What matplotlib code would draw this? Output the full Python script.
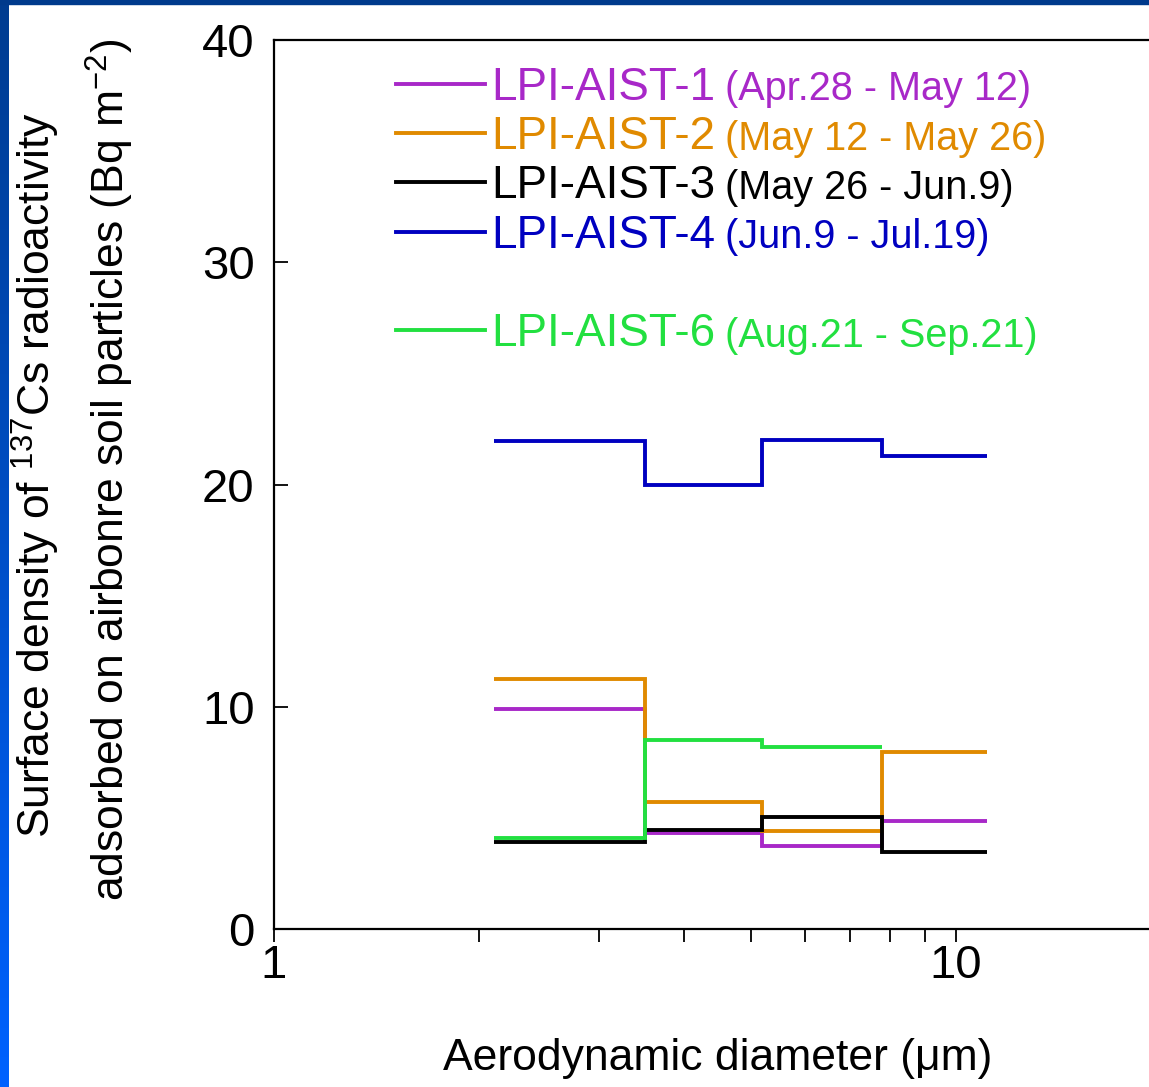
import numpy as np
import matplotlib.pyplot as plt
from matplotlib.lines import Line2D
from matplotlib.colors import LinearSegmentedColormap

plt.rcParams['font.family'] = ['Liberation Sans', 'DejaVu Sans']
plt.rcParams['mathtext.fontset'] = 'custom'
plt.rcParams['mathtext.rm'] = 'Liberation Sans'
plt.rcParams['mathtext.it'] = 'Liberation Sans:italic'

# bin edges of the impactor stages (um)
edges = [2.1, 3.5, 5.2, 7.8, 11.1]

# surface density (Bq m-2) per stage
aist1 = [9.9, 4.3, 3.75, 4.85]
aist2 = [11.25, 5.7, 4.4, 7.95]
aist3 = [3.9, 4.45, 5.05, 3.45]
aist4 = [21.95, 20.0, 22.0, 21.3]
aist6 = [4.1, 8.5, 8.2]

names = ['LPI-AIST-1', 'LPI-AIST-2', 'LPI-AIST-3', 'LPI-AIST-4', 'LPI-AIST-6']
periods = ['(Apr.28 - May 12)', '(May 12 - May 26)', '(May 26 - Jun.9)',
           '(Jun.9 - Jul.19)', '(Aug.21 - Sep.21)']
colors = ['#A828C8', '#E08A00', '#000000', '#0000C0', '#22E040']

W, H = 1149, 1087
fig = plt.figure(figsize=(W / 100, H / 100), dpi=100)

# blue frame strips (slide background)
bl = fig.add_axes([0, 0, 9 / W, 1])
grad = np.linspace(0, 1, 256).reshape(-1, 1)
cm = LinearSegmentedColormap.from_list('bg', ['#0062FF', '#003C90'])
bl.imshow(grad, aspect='auto', cmap=cm, origin='lower', extent=[0, 1, 0, 1])
bl.axis('off')
fig.patches.append(plt.Rectangle((0, 1 - 4 / H), 1, 4 / H, transform=fig.transFigure,
                                 color='#003A8C', zorder=5))

# axes (right part runs past the figure edge, as in the slide)
x0, x1, yb, yt = 274, 1161, 929, 40
ax = fig.add_axes([x0 / W, 1 - yb / H, (x1 - x0) / W, (yb - yt) / H])
ax.set_xscale('log')
ax.set_xlim(1, 20)
ax.set_ylim(0, 40)

series = [aist1, aist2, aist3, aist4, aist6]
for vals, c in zip(series, colors):
    ax.stairs(vals, edges[:len(vals) + 1], baseline=None, color=c, lw=2.8)

for s in ['left', 'bottom', 'top']:
    ax.spines[s].set_linewidth(1.6)
ax.spines['right'].set_visible(False)

ax.set_yticks([0, 10, 20, 30, 40])
ax.set_xticks([1, 10])
ax.set_xticklabels(['1', '10'])
ax.set_xticks([2, 3, 4, 5, 6, 7, 8, 9], minor=True)
ax.tick_params(axis='y', direction='in', length=10, width=1.3, labelsize=34, pad=14)
ax.tick_params(axis='x', which='both', direction='out', length=9, width=1.3,
               labelsize=34, pad=2)
ax.tick_params(axis='x', which='minor', labelbottom=False)

ax.set_xlabel('Aerodynamic diameter (μm)', fontsize=32, labelpad=36)

fig.text(36 / W, 1 - 475 / H, 'Surface density of $^{137}$Cs radioactivity',
         rotation=90, ha='center', va='center', fontsize=32)
fig.text(110 / W, 1 - 470 / H, 'adsorbed on airbonre soil particles (Bq m$^{-2}$)',
         rotation=90, ha='center', va='center', fontsize=32)

# legend with a blank row before AIST-6
handles = [Line2D([], [], color=c, lw=2.8) for c in colors]
labels = list(names)
handles.insert(4, Line2D([], [], color='none'))
labels.insert(4, ' ')
lcolors = colors[:4] + ['none'] + colors[4:]
leg = ax.legend(handles, labels, loc='upper left', bbox_to_anchor=(0.1375, 0.971),
                frameon=False, fontsize=33, handlelength=1.95, handletextpad=0.12,
                labelspacing=0.115, borderpad=0, borderaxespad=0)
for txt, c in zip(leg.get_texts(), lcolors):
    txt.set_color(c)
k = 0
for txt, c, lab in zip(leg.get_texts(), lcolors, labels):
    if lab.strip() == '':
        continue
    ax.annotate(periods[k], xy=(1, 0), xycoords=txt, xytext=(7, 1),
                textcoords='offset points', ha='left', va='bottom',
                fontsize=28.5, color=c, zorder=10)
    k += 1

fig.savefig('out.png', dpi=100)
